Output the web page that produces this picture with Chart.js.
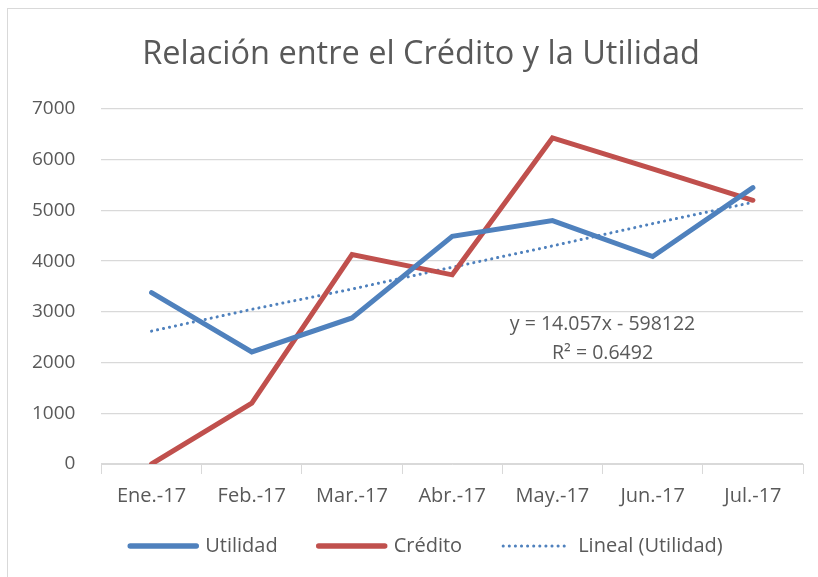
<!DOCTYPE html>
<html>
<head>
<meta charset="utf-8">
<script src="https://cdn.jsdelivr.net/npm/chart.js@4"></script>
<style>
  body { margin: 0; background: #fff; }
  #frame { position: absolute; left: 7px; top: 8px; width: 830px; height: 590px; border: 1px solid #d9d9d9; }
  #wrap { position: absolute; left: 0; top: 0; width: 818px; height: 577px; }
</style>
</head>
<body>
<div id="frame"></div>
<div id="wrap"><canvas id="chart"></canvas></div>
<script>
// values
const months = ['Ene.-17', 'Feb.-17', 'Mar.-17', 'Abr.-17', 'May.-17', 'Jun.-17', 'Jul.-17'];
const utilidad = [3380, 2210, 2880, 4490, 4800, 4090, 5450];
const credito = [0, 1200, 4130, 3730, 6430, 5820, 5200];
const linealUtilidad = [2620, 3050, 3450, 3880, 4300, 4740, 5160];
const yTicks = [0, 1000, 2000, 3000, 4000, 5000, 6000, 7000];
const chartTitle = 'Relación entre el Crédito y la Utilidad';
const trendText = ['y = 14.057x - 598122', 'R² = 0.6492'];

const FONT = "'Open Sans', sans-serif";
const GREY = '#595959';

// title drawn by hand so it can sit centred on the whole frame, like Excel
const excelTitle = {
  id: 'excelTitle',
  afterDraw(chart) {
    const { ctx } = chart;
    ctx.save();
    ctx.font = '32.5px ' + FONT;
    ctx.fillStyle = GREY;
    ctx.textAlign = 'center';
    ctx.textBaseline = 'middle';
    ctx.fillText(chartTitle, chart.width / 2 + 12, 55);
    ctx.restore();
  }
};

// trendline equation label, anchored on the scales
const trendLabel = {
  id: 'trendLabel',
  afterDatasetsDraw(chart) {
    const { ctx, scales } = chart;
    const x = scales.x.getPixelForValue(4.5);
    const y = scales.y.getPixelForValue(2750);
    ctx.save();
    ctx.font = '19.5px ' + FONT;
    ctx.fillStyle = GREY;
    ctx.textAlign = 'center';
    ctx.textBaseline = 'middle';
    ctx.fillText(trendText[0], x, y);
    ctx.fillText(trendText[1], x, y + 29);
    ctx.restore();
  }
};

// Excel-like legend: a line sample then the text, dotted sample for the trendline
const excelLegend = {
  id: 'excelLegend',
  afterDraw(chart) {
    const { ctx } = chart;
    const lineW = 72, gap = 6, spacing = 38;
    ctx.save();
    ctx.font = '20px ' + FONT;
    const items = chart.data.datasets.map(ds => ({ ds, w: lineW + gap + ctx.measureText(ds.label).width }));
    const total = items.reduce((s, it) => s + it.w, 0) + spacing * (items.length - 1);
    let x = chart.width / 2 + 16 - total / 2;
    const y = chart.height - 31;
    items.forEach(({ ds, w }) => {
      ctx.beginPath();
      ctx.strokeStyle = ds.borderColor;
      ctx.lineWidth = ds.borderDash ? ds.borderWidth : 5.5;
      ctx.lineCap = 'round';
      ctx.setLineDash(ds.borderDash || []);
      ctx.moveTo(x + 3, y);
      ctx.lineTo(x + lineW - 3, y);
      ctx.stroke();
      ctx.setLineDash([]);
      ctx.fillStyle = GREY;
      ctx.textBaseline = 'middle';
      ctx.fillText(ds.label, x + lineW + gap, y);
      x += w + spacing;
    });
    ctx.restore();
  }
};

new Chart(document.getElementById('chart'), {
  type: 'line',
  data: {
    labels: months,
    datasets: [{
      label: 'Utilidad',
      data: utilidad,
      borderColor: '#4f81bd',
      borderWidth: 5,
      borderCapStyle: 'round',
      pointRadius: 0,
      tension: 0
    }, {
      label: 'Crédito',
      data: credito,
      borderColor: '#c0504d',
      borderWidth: 5,
      borderCapStyle: 'round',
      pointRadius: 0,
      tension: 0
    }, {
      label: 'Lineal (Utilidad)',
      data: linealUtilidad,
      borderColor: '#4f81bd',
      borderWidth: 3,
      borderDash: [0.1, 6],
      borderCapStyle: 'round',
      pointRadius: 0,
      tension: 0
    }]
  },
  options: {
    responsive: true,
    maintainAspectRatio: false,
    animation: false,
    layout: { padding: { left: 6, right: 15, top: 109, bottom: 59 } },
    scales: {
      x: {
        offset: true,
        grid: { offset: true, drawOnChartArea: false, color: '#d9d9d9', tickLength: 10 },
        border: { color: '#d9d9d9' },
        ticks: { color: GREY, font: { family: FONT, size: 20 }, padding: 10, maxRotation: 0 }
      },
      y: {
        min: 0,
        max: 7000,
        afterBuildTicks(axis) { axis.ticks = yTicks.map(v => ({ value: v })); },
        grid: { color: '#d9d9d9', drawTicks: false, lineWidth: 1.3 },
        border: { display: false },
        ticks: {
          color: GREY,
          font: { family: FONT, size: 19 },
          padding: 26,
          callback: v => String(v)
        }
      }
    },
    plugins: {
      title: { display: false },
      legend: { display: false },
      tooltip: { enabled: false }
    }
  },
  plugins: [excelTitle, trendLabel, excelLegend]
});
</script>
</body>
</html>
